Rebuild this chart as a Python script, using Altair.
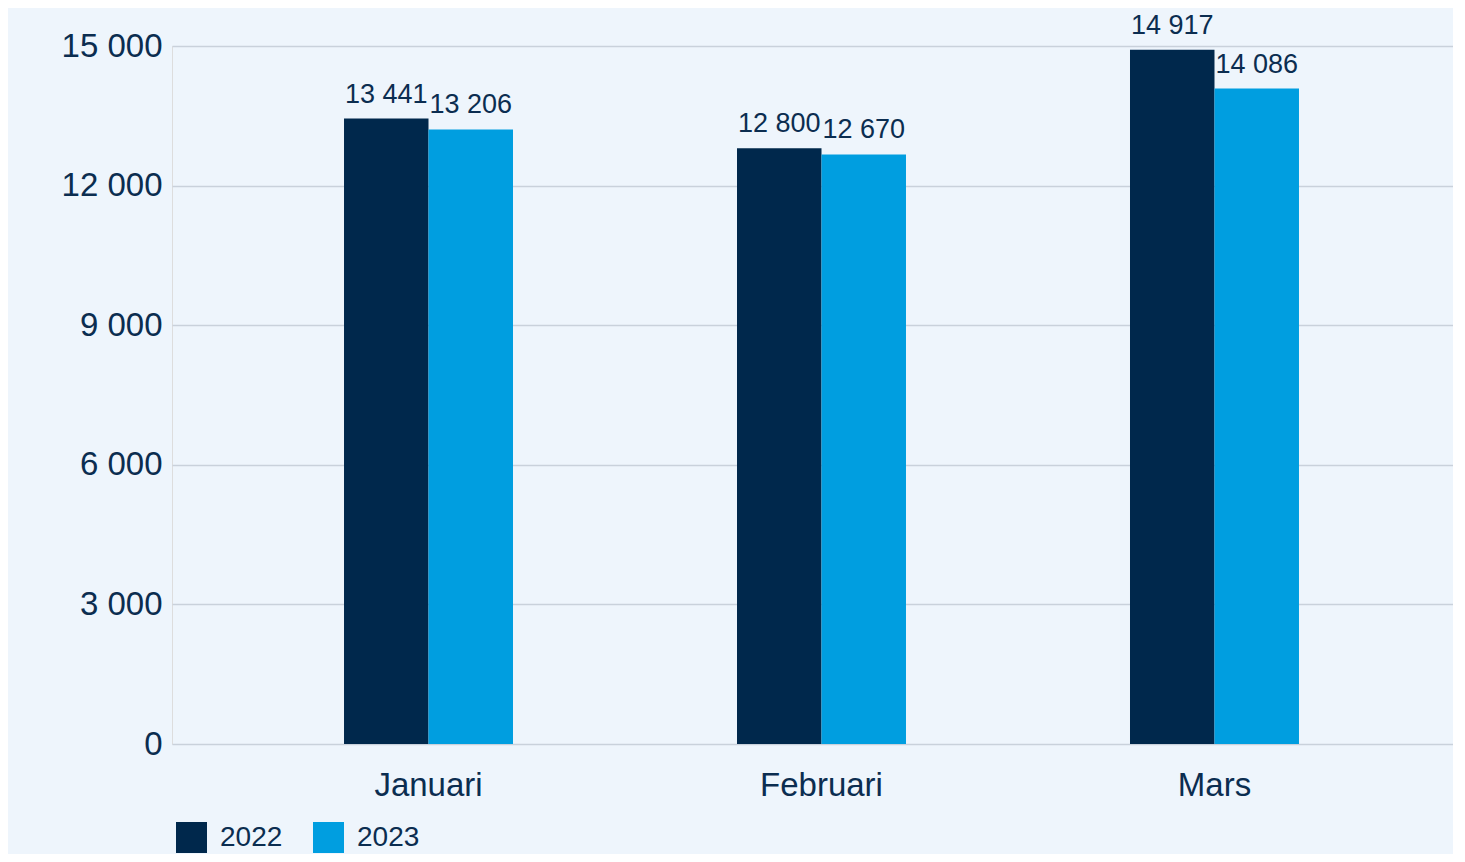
import altair as alt
import pandas as pd

months = ["Januari", "Februari", "Mars"]
years = ["2022", "2023"]
values_2022 = [13441, 12800, 14917]
values_2023 = [13206, 12670, 14086]
y_ticks = [0, 3000, 6000, 9000, 12000, 15000]

rows = []
for i, m in enumerate(months):
    rows.append({"month": m, "year": "2022", "value": values_2022[i]})
    rows.append({"month": m, "year": "2023", "value": values_2023[i]})
df = pd.DataFrame(rows)

TXT = "#0B2D50"
FONT = "Liberation Sans"

x_enc = alt.X(
    "month:N", sort=months, title=None,
    scale=alt.Scale(paddingInner=0.57, paddingOuter=0.4148, align=0.5276),
    axis=alt.Axis(labelAngle=0, labelFontSize=33, labelColor=TXT, labelFont=FONT,
                  labelPadding=25, domain=False, ticks=False, grid=False),
)
xo_enc = alt.XOffset("year:N", sort=years, scale=alt.Scale(paddingInner=0, paddingOuter=0))
y_enc = alt.Y(
    "value:Q", title=None,
    scale=alt.Scale(domain=[0, 15000], nice=False),
    axis=alt.Axis(values=y_ticks, format=",d", labelFontSize=33, labelColor=TXT, labelFont=FONT,
                  labelPadding=10, domain=False, ticks=False, grid=True,
                  gridColor="#C9D1DB", gridWidth=1.3),
)

color_enc = alt.Color(
    "year:N", sort=years, title=None,
    scale=alt.Scale(domain=years, range=["#00284C", "#009EE0"]),
    legend=alt.Legend(orient="none", legendX=4, legendY=776, direction="horizontal",
                      symbolType="square", symbolSize=961, symbolStrokeWidth=0,
                      labelFontSize=28, labelColor=TXT, labelFont=FONT, labelOffset=13,
                      columnPadding=30, padding=0),
)

base = alt.Chart(df)
bars = base.mark_bar().encode(x=x_enc, xOffset=xo_enc, y=y_enc, color=color_enc)

lab22 = base.transform_filter(alt.datum.year == "2022").mark_text(
    baseline="alphabetic", dy=-16, fontSize=27, color=TXT, font=FONT
).encode(x=x_enc, xOffset=xo_enc, y=y_enc, text=alt.Text("value:Q", format=",d"))
lab23 = base.transform_filter(alt.datum.year == "2023").mark_text(
    baseline="alphabetic", dy=-16, fontSize=27, color=TXT, font=FONT
).encode(x=x_enc, xOffset=xo_enc, y=y_enc, text=alt.Text("value:Q", format=",d"))

chart = alt.layer(bars, lab22, lab23).properties(
    width=1281, height=698,
    autosize=alt.AutoSizeParams(type="none"),
    padding={"left": 164, "top": 38, "right": 0, "bottom": 110},
    background="#EEF5FC",
).configure_view(stroke=None).configure(
    locale={"number": {"decimal": ",", "thousands": " ", "grouping": [3], "currency": ["", " kr"]}}
)

chart.save("out.html", embed_options={"renderer": "svg", "actions": False})
